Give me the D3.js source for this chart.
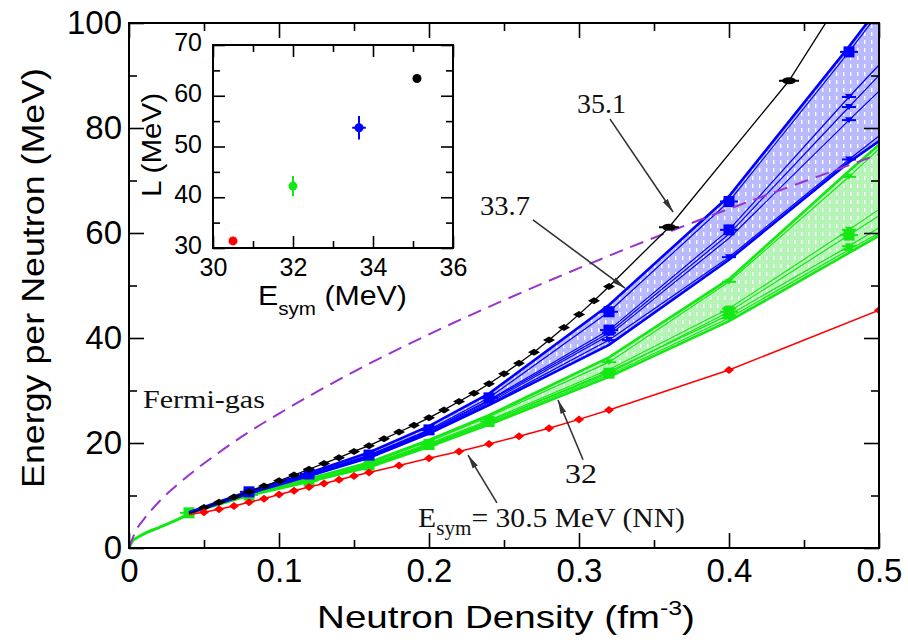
<!DOCTYPE html>
<html><head><meta charset="utf-8">
<script src="https://cdn.jsdelivr.net/npm/d3@7"></script>
<style>html,body{margin:0;padding:0;background:#fff;} svg{display:block;}</style>
</head><body>
<svg id="chart" width="908" height="644"></svg>
<script>
// ---------------- data ----------------
const densityTicks = [0, 0.1, 0.2, 0.3, 0.4, 0.5];
const densityMinor = [0.05, 0.15, 0.25, 0.35, 0.45];
const energyTicks = [0, 20, 40, 60, 80, 100];
const energyMinor = [10, 30, 50, 70, 90];
const insetXTicks = [30, 32, 34, 36];
const insetXMinor = [31, 33, 35];
const insetYTicks = [30, 40, 50, 60, 70];
const insetYMinor = [35, 45, 55, 65];

// Fermi gas (dashed)
const fermiN = [0, 0.005, 0.01, 0.02, 0.04, 0.06, 0.08, 0.10, 0.15, 0.20, 0.25, 0.30, 0.35, 0.40, 0.45, 0.50];
const fermiE = [0, 3.5, 5.5, 8.8, 13.9, 18.2, 22.1, 25.6, 33.6, 40.7, 47.2, 53.3, 59.1, 64.6, 69.8, 75.0];

// common low-density part
const lowN = [0, 0.002, 0.005, 0.01, 0.02, 0.03, 0.04];
const lowE = [0, 1.2, 1.9, 2.7, 3.9, 5.1, 6.5];

// Esym = 35.1 (black)
const blackN = [0.05,0.06,0.07,0.08,0.09,0.10,0.11,0.12,0.13,0.14,0.15,0.16,0.17,0.18,0.19,0.20,0.21,0.22,0.23,0.24,0.25,0.26,0.27,0.28,0.29,0.30,0.31,0.32];
const blackE = [7.7,8.7,9.7,10.7,11.8,12.8,13.9,15.0,16.1,17.2,18.4,19.5,20.8,22.1,23.4,24.8,26.3,27.9,29.5,31.3,33.2,35.2,37.3,39.6,42.0,44.5,47.1,49.8];
const blackBigN = [0.36, 0.44];
const blackBigE = [61.1, 89.0];
const blackTailN = [0.48];
const blackTailE = [107];

// Esym = 30.5 (red, NN)
const redN = [0.05,0.06,0.07,0.08,0.09,0.10,0.11,0.12,0.13,0.14,0.15,0.16,0.18,0.20,0.22,0.24,0.26,0.28,0.30,0.32,0.40,0.50];
const redE = [6.8,7.4,8.0,8.7,9.4,10.2,10.9,11.6,12.3,13.0,13.7,14.4,15.7,17.1,18.4,19.8,21.3,22.8,24.5,26.3,33.9,45.3];

// bands
const bandN = [0.04, 0.08, 0.12, 0.16, 0.20, 0.24, 0.32, 0.40, 0.48, 0.50];
const blueUpper = [6.8, 10.8, 14.3, 18.2, 23.2, 29.4, 46.3, 67.0, 95.5, 103.0];
const blueLower = [6.6, 10.4, 13.7, 17.2, 21.8, 27.2, 38.7, 54.9, 73.5, 77.5];
const blueLine1 = [6.7, 10.7, 14.1, 17.7, 22.5, 28.6, 45.0, 66.0, 94.5, 102.0];
const blueLine2 = [6.7, 10.6, 14.0, 17.6, 22.3, 28.2, 41.5, 60.6, 85.9, 92.0];
const blueLine3 = [6.7, 10.6, 14.0, 17.5, 22.2, 28.0, 41.0, 59.8, 84.0, 90.0];
const blueLine4 = [6.7, 10.5, 13.9, 17.4, 22.0, 27.7, 40.5, 59.0, 81.5, 87.0];
const blueLine5 = [6.6, 10.4, 13.8, 17.3, 21.9, 27.4, 39.6, 55.4, 74.0, 78.5];

const greenUpper = [6.7, 10.3, 13.2, 16.3, 20.6, 25.3, 36.3, 51.2, 71.8, 76.8];
const greenLower = [6.6, 10.0, 12.6, 15.4, 19.3, 23.5, 32.6, 43.2, 56.2, 59.5];
const greenLine1 = [6.7, 10.2, 13.1, 16.1, 20.3, 25.0, 35.4, 50.7, 70.7, 76.0];
const greenLine2 = [6.7, 10.1, 12.9, 15.9, 19.9, 24.3, 34.0, 45.6, 60.6, 64.5];
const greenLine3 = [6.7, 10.1, 12.8, 15.8, 19.7, 24.1, 33.3, 45.0, 59.6, 63.3];
const greenLine4 = [6.6, 10.0, 12.7, 15.7, 19.6, 24.0, 33.6, 44.4, 57.5, 61.0];
const greenLine5 = [6.6, 10.0, 12.6, 15.6, 19.5, 23.8, 33.0, 43.8, 56.8, 60.0];

// inset: L vs Esym
const insetEsym = [30.5, 32.0, 33.65, 35.1];
const insetL = [31.4, 42.2, 53.7, 63.4];
const insetLErr = [0, 2.0, 2.3, 0];
const insetEsymErr = [0, 0, 0.17, 0];
const insetColors = ["#ff0000", "#14e814", "#0000ff", "#000000"];

// annotations (in data coordinates)
const labelTexts = ["35.1", "33.7", "32"];
const labelN = [0.2987, 0.234, 0.2907];
const labelE = [82.9, 63.4, 12.4];
const labelW = [49, 50, 32];
const arrowFromN = [0.3207, 0.2693, 0.3027, 0.2453];
const arrowFromE = [81.7, 62.5, 16.8, 8.6];
const arrowToN = [0.3627, 0.3307, 0.286, 0.226];
const arrowToE = [64.0, 49.5, 28.2, 17.7];

// ---------------- drawing ----------------
const svg = d3.select("#chart");
const sans = "'Liberation Sans', Arial, Helvetica, sans-serif";
const serif = "'Liberation Serif', 'Times New Roman', serif";
const BLUE = "#0000ff", GREEN = "#14e814", RED = "#ff0000", PURPLE = "#9933cc";

const x = d3.scaleLinear().domain([0, 0.5]).range([129, 879]);
const y = d3.scaleLinear().domain([0, 100]).range([548, 23]);

const defs = svg.append("defs");
defs.append("clipPath").attr("id", "plotclip").append("rect")
  .attr("x", x(0)).attr("y", y(100)).attr("width", x(0.5) - x(0)).attr("height", y(0) - y(100));
function hatch(id, bg) {
  const p = defs.append("pattern").attr("id", id).attr("patternUnits", "userSpaceOnUse")
    .attr("width", 7).attr("height", 8);
  p.append("rect").attr("width", 7).attr("height", 8).attr("fill", bg);
  p.append("rect").attr("x", 3).attr("y", 0).attr("width", 1.4).attr("height", 4).attr("fill", "#fff");
}
hatch("hatchBlue", "#babaff");
hatch("hatchGreen", "#b6f3b6");
defs.append("marker").attr("id", "arrow").attr("viewBox", "0 0 14 10")
  .attr("refX", 14).attr("refY", 5).attr("markerWidth", 14).attr("markerHeight", 10)
  .attr("markerUnits", "userSpaceOnUse").attr("orient", "auto")
  .append("path").attr("d", "M0,2 L14,5 L0,8 Z").attr("fill", "#333");

const plot = svg.append("g").attr("clip-path", "url(#plotclip)");
const line = d3.line().x(d => x(d[0])).y(d => y(d[1]));
const zip = (a, b) => a.map((v, i) => [v, b[i]]);

// bands
function band(upper, lower, fillId, color, lines, bigIdx, smallIdx) {
  const area = d3.area().x(d => x(d[0])).y0(d => y(d[2])).y1(d => y(d[1]));
  plot.append("path").datum(bandN.map((n, i) => [n, upper[i], lower[i]]))
    .attr("d", area).attr("fill", `url(#${fillId})`);
  lines.forEach((ln) => {
    plot.append("path").datum(zip(bandN, ln)).attr("d", line)
      .attr("fill", "none").attr("stroke", color).attr("stroke-width", 1.2);
  });
  [upper, lower].forEach(b => {
    plot.append("path").datum(zip(bandN, b)).attr("d", line)
      .attr("fill", "none").attr("stroke", color).attr("stroke-width", 2.6);
  });
  lines.forEach((ln, li) => {
    (bigIdx[li] || []).forEach(i => {
      const cx = x(bandN[i]), cy = y(ln[i]);
      plot.append("line").attr("x1", cx - 9).attr("x2", cx + 9).attr("y1", cy).attr("y2", cy)
        .attr("stroke", color).attr("stroke-width", 2);
      plot.append("rect").attr("x", cx - 5.5).attr("y", cy - 5.5).attr("width", 11).attr("height", 11)
        .attr("fill", color);
    });
    (smallIdx[li] || []).forEach(i => {
      const cx = x(bandN[i]), cy = y(ln[i]);
      plot.append("line").attr("x1", cx - 7).attr("x2", cx + 7).attr("y1", cy).attr("y2", cy)
        .attr("stroke", color).attr("stroke-width", 2);
      plot.append("path").attr("d", `M${cx-4},${cy-3} L${cx+4},${cy-3} L${cx},${cy+3} Z`).attr("fill", color);
    });
  });
}
band(greenUpper, greenLower, "hatchGreen", GREEN,
  [greenLine1, greenLine2, greenLine3, greenLine4, greenLine5],
  [[], [], [0, 1, 2, 3, 4, 5, 6, 7, 8], [], []],
  [[6, 7, 8], [7, 8], [], [6, 7, 8], [7, 8]]);
band(blueUpper, blueLower, "hatchBlue", BLUE,
  [blueLine1, blueLine2, blueLine3, blueLine4, blueLine5],
  [[1, 2, 3, 4, 5, 6, 7, 8], [6, 7], [], [], []],
  [[], [8], [6, 8], [8], [6, 7, 8]]);

// low density common part
plot.append("path").datum(zip(lowN, lowE)).attr("d", line.curve(d3.curveMonotoneX))
  .attr("fill", "none").attr("stroke", GREEN).attr("stroke-width", 3);
line.curve(d3.curveLinear);

// Fermi gas
plot.append("path").datum(zip(fermiN, fermiE)).attr("d", line.curve(d3.curveMonotoneX))
  .attr("fill", "none").attr("stroke", PURPLE).attr("stroke-width", 2).attr("stroke-dasharray", "14,8");
line.curve(d3.curveLinear);

// black
const blackAll = [[0.04, 6.5]].concat(zip(blackN, blackE), zip(blackBigN, blackBigE), zip(blackTailN, blackTailE));
plot.append("path").datum(blackAll).attr("d", line).attr("fill", "none").attr("stroke", "#000").attr("stroke-width", 1.3);
zip(blackN, blackE).forEach(d => {
  const cx = x(d[0]), cy = y(d[1]);
  plot.append("path").attr("d", `M${cx-6},${cy} L${cx},${cy-3.5} L${cx+6},${cy} L${cx},${cy+3.5} Z`).attr("fill", "#000");
});
zip(blackBigN, blackBigE).forEach(d => {
  const cx = x(d[0]), cy = y(d[1]);
  plot.append("line").attr("x1", cx - 10).attr("x2", cx + 10).attr("y1", cy).attr("y2", cy).attr("stroke", "#000").attr("stroke-width", 2);
  plot.append("ellipse").attr("cx", cx).attr("cy", cy).attr("rx", 7).attr("ry", 3.5).attr("fill", "#000");
});

// red
const redAll = [[0.04, 6.4]].concat(zip(redN, redE));
plot.append("path").datum(redAll).attr("d", line).attr("fill", "none").attr("stroke", RED).attr("stroke-width", 1.5);
zip(redN, redE).forEach(d => {
  const cx = x(d[0]), cy = y(d[1]);
  plot.append("path").attr("d", `M${cx-5},${cy} L${cx},${cy-4} L${cx+5},${cy} L${cx},${cy+4} Z`).attr("fill", RED);
});

// ---------------- axes ----------------
function styleAxis(g) { g.select(".domain").remove(); g.selectAll("line").attr("stroke", "#000").attr("stroke-width", 1.6); }
const tickFont = g => g.selectAll("text").attr("font-family", sans).attr("font-size", 33).attr("fill", "#000");

svg.append("g").attr("transform", `translate(0,${y(0)})`)
  .call(d3.axisBottom(x).tickValues(densityTicks).tickSize(-15).tickPadding(11).tickFormat(d => d === 0 ? "0" : d3.format(".1f")(d)))
  .call(styleAxis).call(tickFont);
svg.append("g").attr("transform", `translate(0,${y(0)})`)
  .call(d3.axisBottom(x).tickValues(densityMinor).tickSize(-8).tickFormat("")).call(styleAxis);
svg.append("g").attr("transform", `translate(0,${y(100)})`)
  .call(d3.axisTop(x).tickValues(densityTicks).tickSize(-15).tickFormat("")).call(styleAxis);
svg.append("g").attr("transform", `translate(0,${y(100)})`)
  .call(d3.axisTop(x).tickValues(densityMinor).tickSize(-8).tickFormat("")).call(styleAxis);
svg.append("g").attr("transform", `translate(${x(0)},0)`)
  .call(d3.axisLeft(y).tickValues(energyTicks).tickSize(-15).tickPadding(7))
  .call(styleAxis).call(tickFont);
svg.append("g").attr("transform", `translate(${x(0)},0)`)
  .call(d3.axisLeft(y).tickValues(energyMinor).tickSize(-8).tickFormat("")).call(styleAxis);
svg.append("g").attr("transform", `translate(${x(0.5)},0)`)
  .call(d3.axisRight(y).tickValues(energyTicks).tickSize(-15).tickFormat("")).call(styleAxis);
svg.append("g").attr("transform", `translate(${x(0.5)},0)`)
  .call(d3.axisRight(y).tickValues(energyMinor).tickSize(-8).tickFormat("")).call(styleAxis);
svg.append("rect").attr("x", x(0)).attr("y", y(100)).attr("width", x(0.5) - x(0)).attr("height", y(0) - y(100))
  .attr("fill", "none").attr("stroke", "#000").attr("stroke-width", 2);

// fit helper: scale text horizontally to a target width
function fit(sel, tx, ty, target, rot) {
  const w = sel.node().getBBox().width;
  const s = target / w;
  sel.attr("transform", `translate(${tx},${ty})` + (rot ? ` rotate(${rot})` : "") + ` scale(${s},1)`);
}

// axis titles
const xt = svg.append("text").attr("font-family", sans).attr("font-size", 31).attr("text-anchor", "middle").attr("fill", "#000");
xt.append("tspan").text("Neutron Density (fm");
xt.append("tspan").attr("dy", -13).attr("font-size", 20).text("-3");
xt.append("tspan").attr("dy", 13).text(")");
fit(xt, 506, 628, 378);
const yt = svg.append("text").attr("font-family", sans).attr("font-size", 32).attr("text-anchor", "middle").attr("fill", "#000")
  .text("Energy per Neutron (MeV)");
fit(yt, 44, 278, 420, -90);

// annotations
labelTexts.forEach((t, i) => {
  const tx = svg.append("text").attr("font-family", serif).attr("font-size", 27).attr("fill", "#111").text(t);
  fit(tx, x(labelN[i]), y(labelE[i]), labelW[i]);
});
const fg = svg.append("text").attr("font-family", serif).attr("font-size", 25).attr("fill", "#111").text("Fermi-gas");
fit(fg, x(0.0093), y(26.7), 122);
const es = svg.append("text").attr("font-family", serif).attr("font-size", 28).attr("fill", "#111");
es.append("tspan").text("E");
es.append("tspan").attr("dy", 8).attr("font-size", 20).text("sym");
es.append("tspan").attr("dy", -8).text("= 30.5 MeV (NN)");
fit(es, x(0.1927), y(4.0), 267);

arrowFromN.forEach((n, i) => {
  svg.append("line").attr("x1", x(n)).attr("y1", y(arrowFromE[i]))
    .attr("x2", x(arrowToN[i])).attr("y2", y(arrowToE[i]))
    .attr("stroke", "#333").attr("stroke-width", 1.6).attr("marker-end", "url(#arrow)");
});

// ---------------- inset ----------------
const ix = d3.scaleLinear().domain([30, 36]).range([213, 453]);
const iy = d3.scaleLinear().domain([30, 70]).range([248, 45]);
svg.append("rect").attr("x", ix(30)).attr("y", iy(70)).attr("width", ix(36) - ix(30)).attr("height", iy(30) - iy(70))
  .attr("fill", "#fff");
const insetFont = g => g.selectAll("text").attr("font-family", sans).attr("font-size", 25).attr("fill", "#000");
svg.append("g").attr("transform", `translate(0,${iy(30)})`)
  .call(d3.axisBottom(ix).tickValues(insetXTicks).tickSize(-12).tickPadding(10).tickFormat(d3.format("d")))
  .call(styleAxis).call(insetFont);
svg.append("g").attr("transform", `translate(0,${iy(30)})`)
  .call(d3.axisBottom(ix).tickValues(insetXMinor).tickSize(-7).tickFormat("")).call(styleAxis);
svg.append("g").attr("transform", `translate(0,${iy(70)})`)
  .call(d3.axisTop(ix).tickValues(insetXTicks).tickSize(-12).tickFormat("")).call(styleAxis);
svg.append("g").attr("transform", `translate(0,${iy(70)})`)
  .call(d3.axisTop(ix).tickValues(insetXMinor).tickSize(-7).tickFormat("")).call(styleAxis);
const iyAxis = svg.append("g").attr("transform", `translate(${ix(30)},0)`)
  .call(d3.axisLeft(iy).tickValues(insetYTicks).tickSize(-12).tickPadding(11).tickFormat(d3.format("d")))
  .call(styleAxis).call(insetFont);
iyAxis.selectAll("text").attr("dy", "0.22em");
svg.append("g").attr("transform", `translate(${ix(30)},0)`)
  .call(d3.axisLeft(iy).tickValues(insetYMinor).tickSize(-7).tickFormat("")).call(styleAxis);
svg.append("g").attr("transform", `translate(${ix(36)},0)`)
  .call(d3.axisRight(iy).tickValues(insetYTicks).tickSize(-12).tickFormat("")).call(styleAxis);
svg.append("g").attr("transform", `translate(${ix(36)},0)`)
  .call(d3.axisRight(iy).tickValues(insetYMinor).tickSize(-7).tickFormat("")).call(styleAxis);
svg.append("rect").attr("x", ix(30)).attr("y", iy(70)).attr("width", ix(36) - ix(30)).attr("height", iy(30) - iy(70))
  .attr("fill", "none").attr("stroke", "#000").attr("stroke-width", 2);

insetEsym.forEach((e, i) => {
  const cx = ix(e), cy = iy(insetL[i]);
  if (insetLErr[i] > 0) svg.append("line").attr("x1", cx).attr("x2", cx)
    .attr("y1", iy(insetL[i] - insetLErr[i])).attr("y2", iy(insetL[i] + insetLErr[i]))
    .attr("stroke", insetColors[i]).attr("stroke-width", 2);
  if (insetEsymErr[i] > 0) svg.append("line").attr("y1", cy).attr("y2", cy)
    .attr("x1", ix(e - insetEsymErr[i])).attr("x2", ix(e + insetEsymErr[i]))
    .attr("stroke", insetColors[i]).attr("stroke-width", 2);
  svg.append("circle").attr("cx", cx).attr("cy", cy).attr("r", 4.5).attr("fill", insetColors[i]);
});

const ixt = svg.append("text").attr("font-family", sans).attr("font-size", 28).attr("fill", "#000");
ixt.append("tspan").text("E");
ixt.append("tspan").attr("dy", 10).attr("font-size", 19).text("sym");
ixt.append("tspan").attr("dy", -10).text(" (MeV)");
fit(ixt, 258, 305, 149);
const iyt = svg.append("text").attr("font-family", sans).attr("font-size", 28).attr("text-anchor", "middle").attr("fill", "#000")
  .text("L (MeV)");
fit(iyt, 161, 145, 104, -90);
</script>
</body></html>
